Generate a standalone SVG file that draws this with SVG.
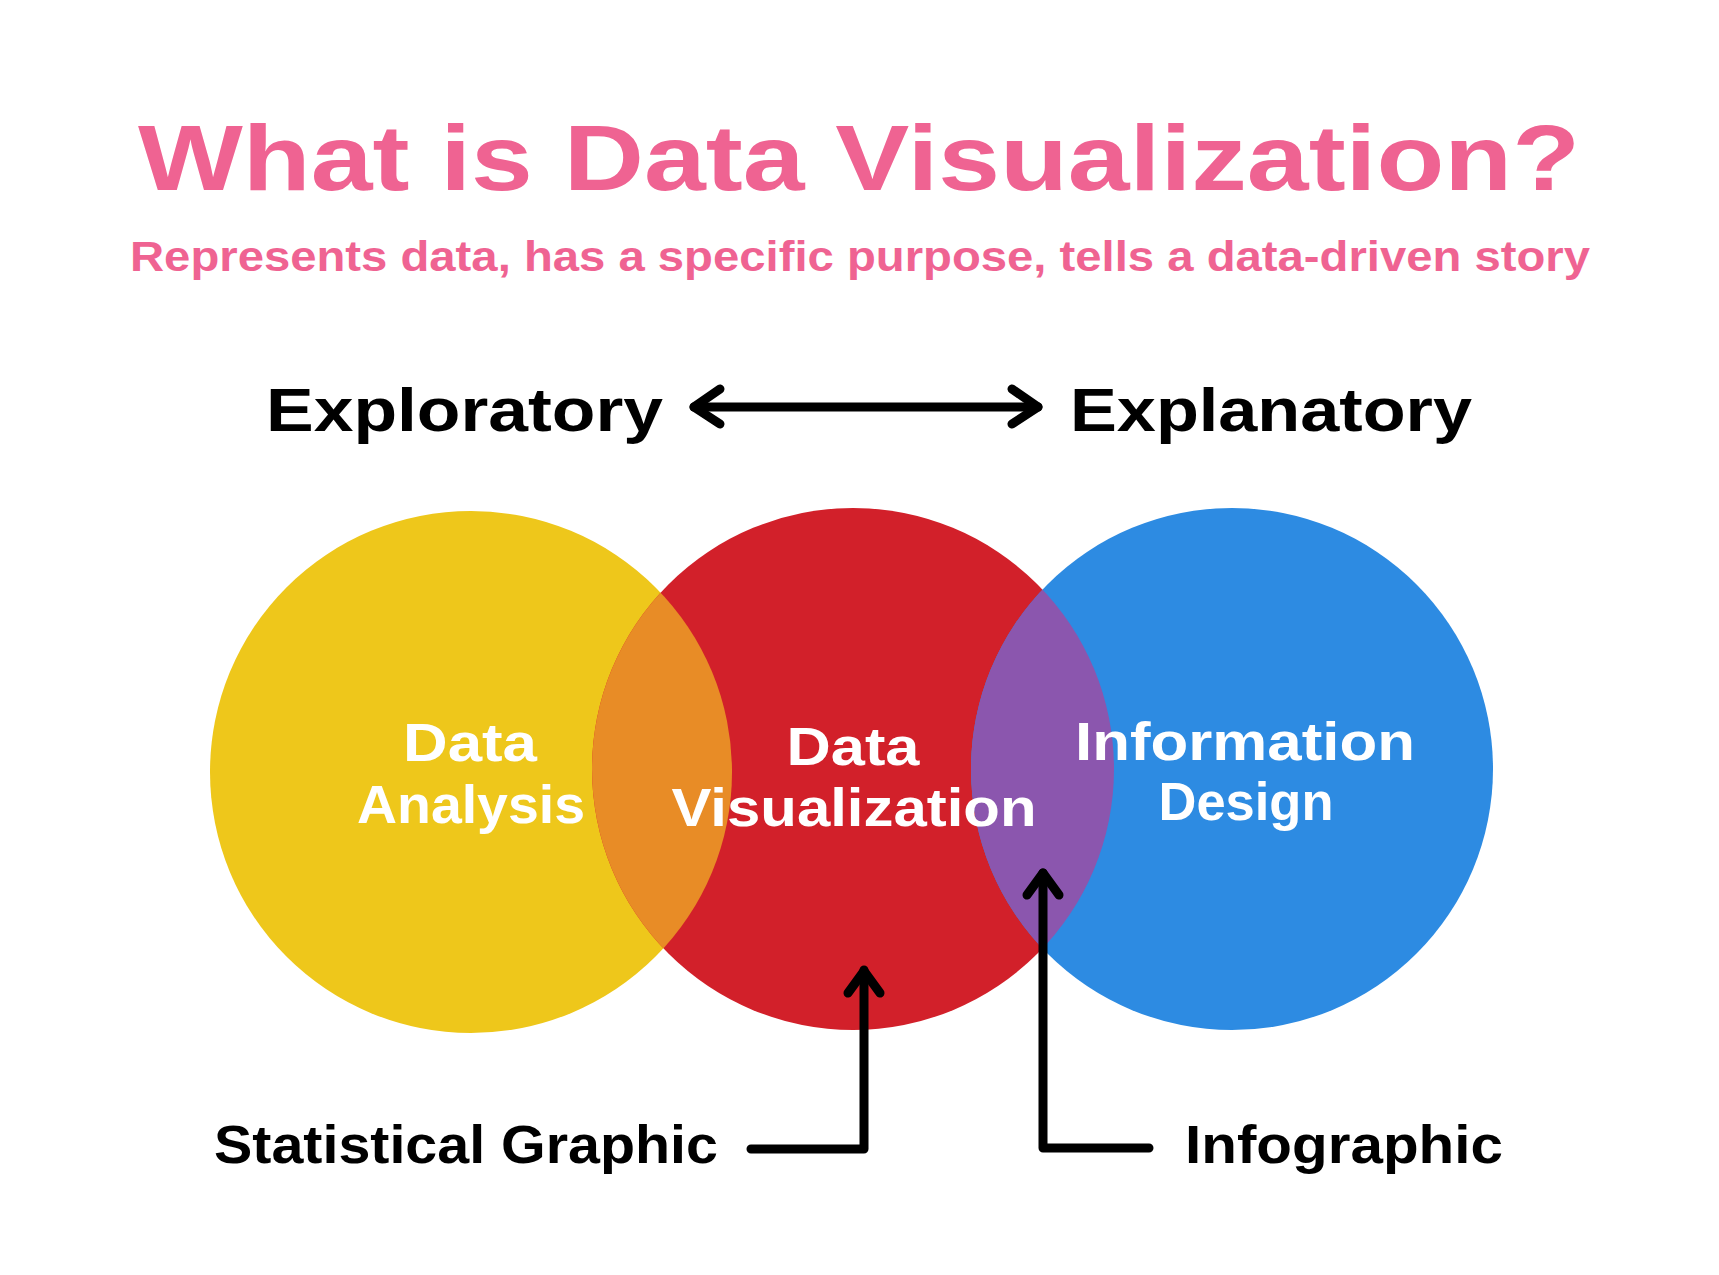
<svg xmlns="http://www.w3.org/2000/svg" width="1719" height="1275" viewBox="0 0 1719 1275">
  <style>
    .t { font-family: "Liberation Sans", Arial, sans-serif; font-weight: bold; }
    .pink { fill: #EF6392; }
    .blk { fill: #000000; }
    .wht { fill: #FFFFFF; }
    .line { fill: none; stroke: #000000; stroke-width: 9; stroke-linecap: round; stroke-linejoin: round; }
  </style>
  <defs>
    <clipPath id="clipRed"><circle cx="853" cy="769" r="261"/></clipPath>
  </defs>
  <rect x="0" y="0" width="1719" height="1275" fill="#FFFFFF"/>

  <g id="title">
    <text class="t pink" x="138" y="190" font-size="93" textLength="1442" lengthAdjust="spacingAndGlyphs">What is Data Visualization?</text>
  </g>
  <g id="subtitle">
    <text class="t pink" x="130" y="271" font-size="43" textLength="1460" lengthAdjust="spacingAndGlyphs">Represents data, has a specific purpose, tells a data-driven story</text>
  </g>

  <g id="exploratory">
    <text class="t blk" x="266" y="431" font-size="62" textLength="397" lengthAdjust="spacingAndGlyphs">Exploratory</text>
  </g>
  <g id="explanatory">
    <text class="t blk" x="1070" y="431" font-size="62" textLength="402" lengthAdjust="spacingAndGlyphs">Explanatory</text>
  </g>

  <g id="data-analysis">
    <circle cx="471" cy="772" r="261" fill="#EEC71B"/>
  </g>
  <g id="data-visualization">
    <circle cx="853" cy="769" r="261" fill="#D2202A"/>
    <circle cx="471" cy="772" r="261" fill="#E88C26" clip-path="url(#clipRed)"/>
  </g>
  <g id="information-design">
    <circle cx="1232" cy="769" r="261" fill="#2D8BE2"/>
    <circle cx="1232" cy="769" r="261" fill="#8B56AE" clip-path="url(#clipRed)"/>
  </g>

  <g id="labels">
    <text class="t wht" x="470" y="761" font-size="53" text-anchor="middle" textLength="134" lengthAdjust="spacingAndGlyphs">Data</text>
    <text class="t wht" x="471" y="823" font-size="53" text-anchor="middle" textLength="228" lengthAdjust="spacingAndGlyphs">Analysis</text>
    <text class="t wht" x="853" y="765" font-size="53" text-anchor="middle" textLength="133" lengthAdjust="spacingAndGlyphs">Data</text>
    <text class="t wht" x="854" y="826" font-size="53" text-anchor="middle" textLength="365" lengthAdjust="spacingAndGlyphs">Visualization</text>
    <text class="t wht" x="1245" y="760" font-size="53" text-anchor="middle" textLength="340" lengthAdjust="spacingAndGlyphs">Information</text>
    <text class="t wht" x="1246" y="820" font-size="53" text-anchor="middle" textLength="175" lengthAdjust="spacingAndGlyphs">Design</text>
  </g>

  <g id="statistical-graphic">
    <text class="t blk" x="214" y="1163" font-size="53" textLength="504" lengthAdjust="spacingAndGlyphs">Statistical Graphic</text>
  </g>
  <g id="infographic">
    <text class="t blk" x="1185" y="1163" font-size="53" textLength="318" lengthAdjust="spacingAndGlyphs">Infographic</text>
  </g>

  <g id="connectors">
    <line class="line" x1="694" y1="407" x2="1038" y2="407"/>
    <polyline class="line" points="720,389 694,407 720,424"/>
    <polyline class="line" points="1012,389 1038,407 1012,424"/>
    <polyline class="line" points="751,1149 864,1149 864,970"/>
    <polyline class="line" points="848,993 864,971 880,993"/>
    <polyline class="line" points="1149,1148 1043,1148 1043,873"/>
    <polyline class="line" points="1027,895 1043,873 1059,895"/>
  </g>
</svg>
